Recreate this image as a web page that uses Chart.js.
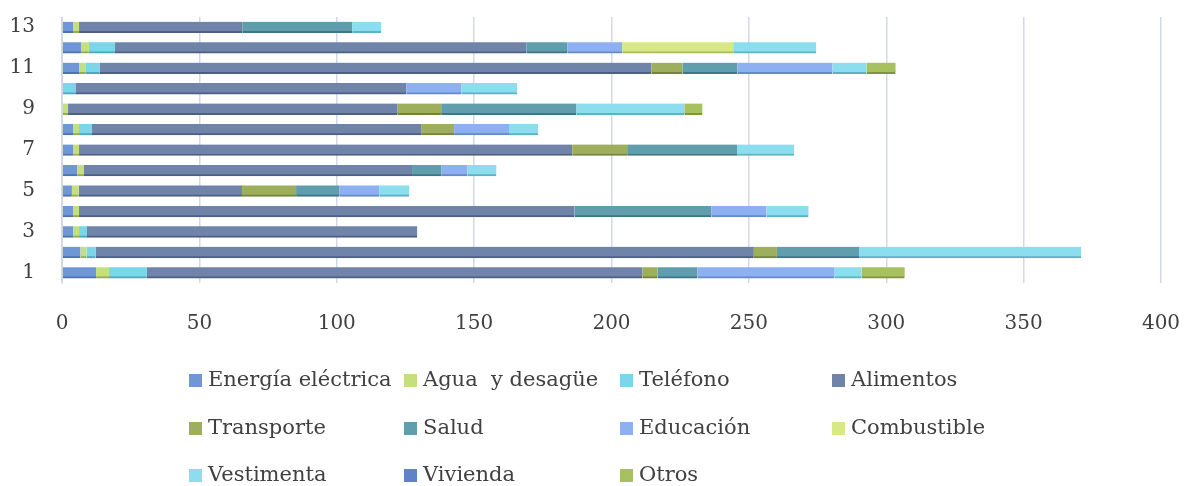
<!doctype html>
<html lang="es">
<head>
<meta charset="utf-8">
<title>Gastos por hogar</title>
<script src="https://cdn.jsdelivr.net/npm/chart.js@4.4.1/dist/chart.umd.min.js"></script>
<style>
  html, body { margin: 0; padding: 0; background: #fff; }
  #wrap { width: 1190px; height: 486px; }
</style>
</head>
<body>
<div id="wrap"><canvas id="barChart" width="1190" height="486"></canvas></div>
<script>
// categorias (hogares 1..13)
var categorias = ['1','2','3','4','5','6','7','8','9','10','11','12','13'];

// valores, uno por categoria
var energia     = [12.4, 6.7, 4.0, 4.0, 3.6, 5.5, 4.0, 4.0, 0, 0, 6.2, 6.9, 4.0];
var agua        = [4.7, 2.2, 2.2, 2.2, 2.5, 2.5, 2.2, 2.2, 2.2, 0, 2.5, 2.9, 2.2];
var telefono    = [13.8, 3.3, 2.9, 0, 0, 0, 0, 4.7, 0, 5.1, 5.1, 9.5, 0];
var alimentos   = [180.3, 239.6, 120.2, 180.3, 59.4, 119.4, 179.5, 119.8, 119.8, 120.2, 200.7, 149.7, 59.4];
var transporte  = [5.5, 8.4, 0, 0, 19.7, 0, 20.0, 12.0, 16.0, 0, 11.3, 0, 0];
var salud       = [14.6, 29.9, 0, 49.9, 15.7, 10.6, 40.0, 0, 49.2, 0, 20.0, 14.9, 40.0];
var educacion   = [49.9, 0, 0, 20.0, 14.6, 9.5, 0, 20.0, 0, 20.0, 34.6, 20.0, 0];
var combustible = [0, 0, 0, 0, 0, 0, 0, 0, 0, 0, 0, 40.4, 0];
var vestimenta  = [9.8, 80.8, 0, 15.3, 10.9, 10.6, 20.8, 10.6, 39.3, 20.4, 12.4, 30.2, 10.6];
var vivienda    = [0, 0, 0, 0, 0, 0, 0, 0, 0, 0, 0, 0, 0];
var otros       = [15.7, 0, 0, 0, 0, 0, 0, 0, 6.6, 0, 10.6, 0, 0];

var xTicks = [0, 50, 100, 150, 200, 250, 300, 350, 400];

var series = [
  ['Energía eléctrica', energia,     '#6f97d5', '#4e73b0'],
  ['Agua  y desagüe',   agua,        '#c6df7e', '#93ad50'],
  ['Teléfono',          telefono,    '#7ad6e8', '#4aa9bd'],
  ['Alimentos',         alimentos,   '#7084aa', '#4d6084'],
  ['Transporte',        transporte,  '#9dae5c', '#748438'],
  ['Salud',             salud,       '#609dad', '#3e7686'],
  ['Educación',         educacion,   '#8db1f0', '#6689c8'],
  ['Combustible',       combustible, '#d8e884', '#aabb58'],
  ['Vestimenta',        vestimenta,  '#8cddee', '#5ab4c6'],
  ['Vivienda',          vivienda,    '#5f83c8', '#3f5f9c'],
  ['Otros',             otros,       '#a8c160', '#7e963a']
];

var datasets = series.map(function (s) {
  return {
    label: s[0],
    data: s[1],
    backgroundColor: s[2],
    borderColor: s[3],
    borderWidth: {top: 0, right: 0, bottom: 2, left: 0},
    borderSkipped: false,
    barThickness: 11
  };
});

var fuente = 'DejaVu Serif';
var gris = '#404040';

// leyenda en rejilla de 4 columnas, como en el original
var gridLegend = {
  id: 'gridLegend',
  afterDraw: function (chart) {
    var ctx = chart.ctx;
    var cols = [189, 404, 620, 832];
    var rows = [380, 428, 475];
    ctx.save();
    ctx.font = '21px "' + fuente + '"';
    ctx.textBaseline = 'middle';
    chart.data.datasets.forEach(function (ds, i) {
      var x = cols[i % 4];
      var y = rows[Math.floor(i / 4)];
      ctx.fillStyle = ds.backgroundColor;
      ctx.fillRect(x, y - 6, 13, 13);
      ctx.fillStyle = gris;
      ctx.fillText(ds.label, x + 19, y + 1);
    });
    ctx.restore();
  }
};

new Chart(document.getElementById('barChart'), {
  type: 'bar',
  data: { labels: categorias, datasets: datasets },
  plugins: [gridLegend],
  options: {
    indexAxis: 'y',
    responsive: false,
    animation: false,
    layout: { padding: { top: 17, right: 29, bottom: 154, left: 0 } },
    plugins: {
      legend: { display: false },
      tooltip: { enabled: false }
    },
    scales: {
      x: {
        stacked: true,
        min: 0,
        max: 400,
        afterBuildTicks: function (axis) {
          axis.ticks = xTicks.map(function (v) { return { value: v }; });
        },
        afterFit: function (axis) {
          axis.height = 49;
          axis.paddingLeft = 0;
          axis.paddingRight = 0;
        },
        grid: { color: '#d3d9e6', lineWidth: 1.5, drawTicks: false },
        border: { display: false },
        ticks: {
          padding: 29,
          color: gris,
          font: { family: fuente, size: 20 }
        }
      },
      y: {
        stacked: true,
        reverse: true,
        afterFit: function (axis) {
          axis.width = 62;
          axis.paddingTop = 0;
          axis.paddingBottom = 0;
        },
        grid: { display: false, drawTicks: false },
        border: { display: true, color: '#d9d9d9', width: 1 },
        ticks: {
          autoSkip: false,
          padding: 27,
          color: gris,
          font: { family: fuente, size: 20 },
          callback: function (v, i) {
            var lab = this.getLabelForValue(v);
            return (parseInt(lab, 10) % 2 === 1) ? lab : '';
          }
        }
      }
    }
  }
});
</script>
</body>
</html>
